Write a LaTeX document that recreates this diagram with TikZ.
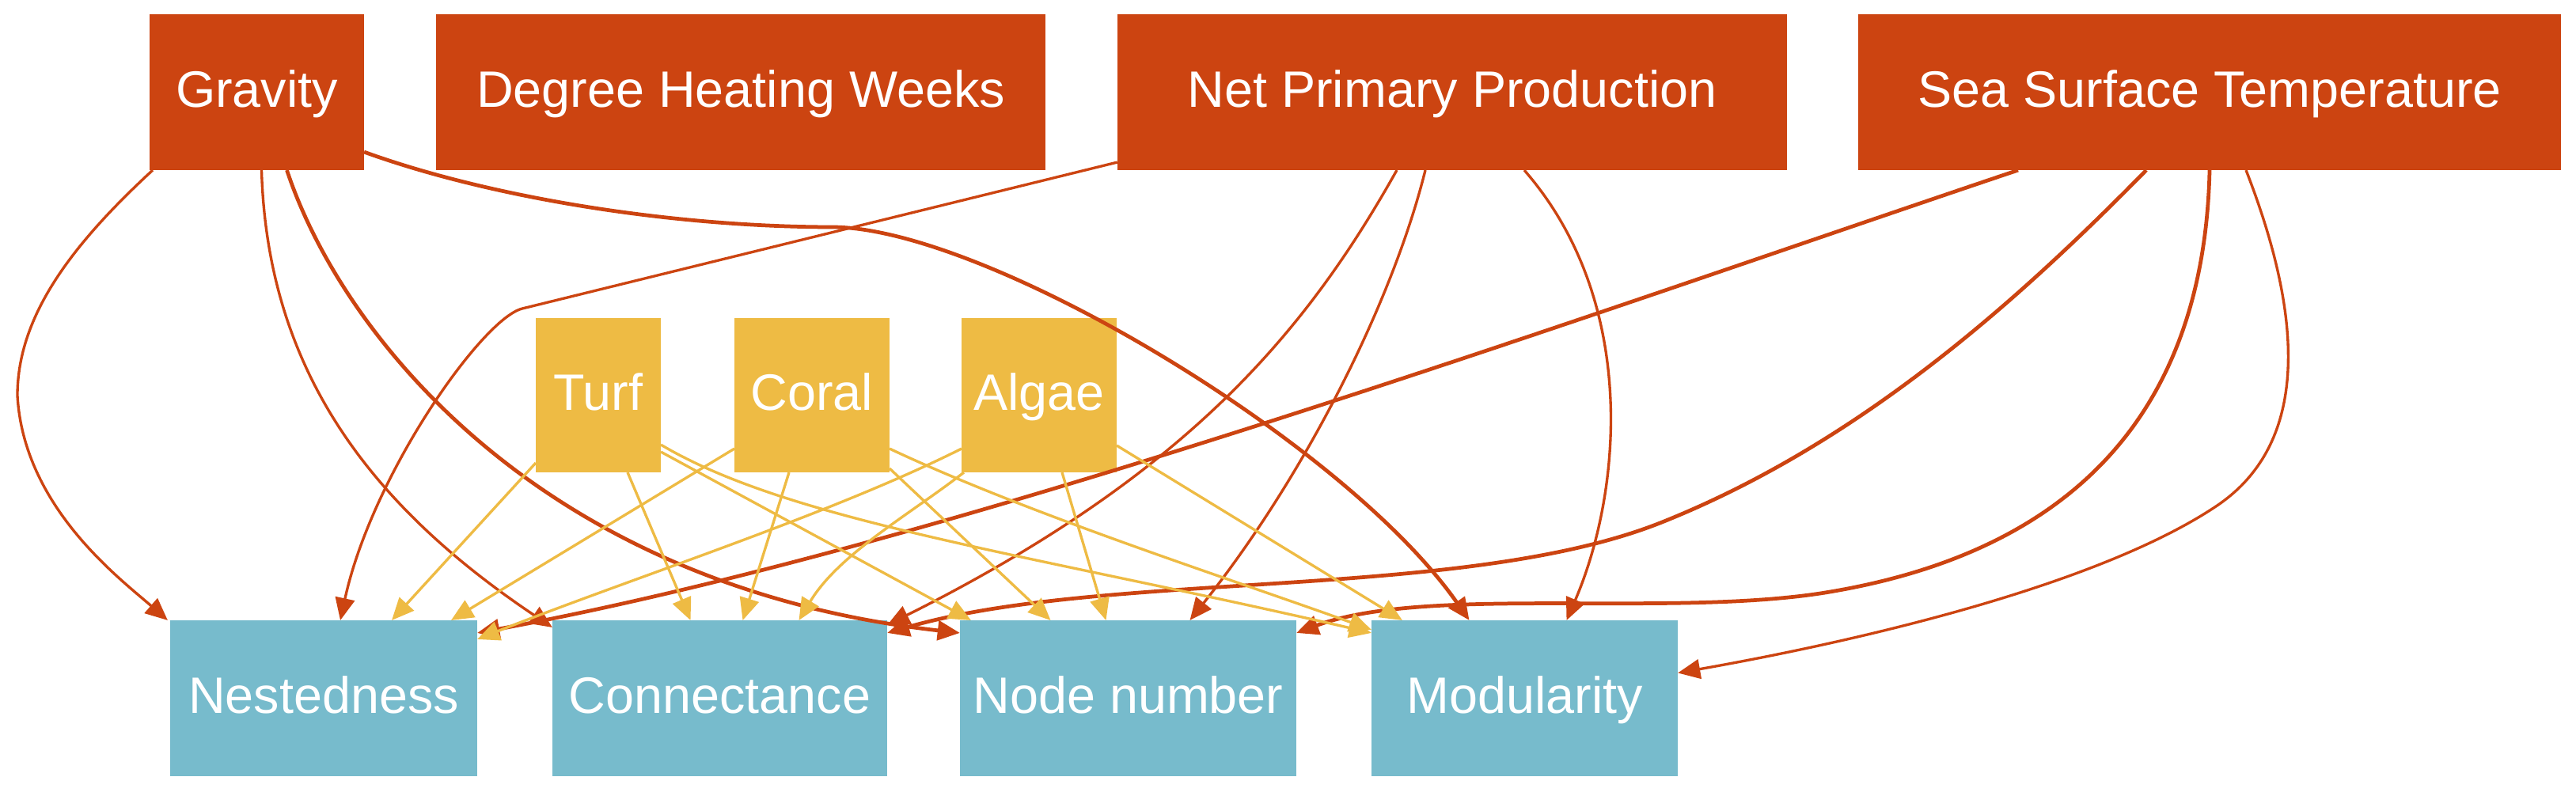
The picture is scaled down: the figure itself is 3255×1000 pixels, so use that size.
\documentclass[tikz,border=0pt]{standalone}
\usepackage{fontspec}
\setmainfont{Liberation Sans}
\usetikzlibrary{arrows.meta,calc}
\definecolor{driver-red}{HTML}{CC4411}
\definecolor{group-yellow}{HTML}{EEBB44}
\definecolor{metric-blue}{HTML}{77BBCC}
\tikzset{
  box/.style={rectangle, inner sep=0pt, outer sep=0pt, text=white,
    font=\fontsize{18.4}{22}\selectfont, text height=14.7pt, text depth=3.7pt},
  driver/.style={box, fill=driver-red, minimum height=1.97cm},
  group/.style={box, fill=group-yellow, minimum height=1.95cm},
  metric/.style={box, fill=metric-blue, minimum height=1.97cm},
  redlink/.style={-{Triangle[length=8pt,width=7pt]}, draw=driver-red, line width=0.95pt},
  yellowlink/.style={-{Triangle[length=8pt,width=7pt]}, draw=group-yellow, line width=0.95pt},
  heavy/.style={line width=1.35pt}
}

\begin{document}
\begin{tikzpicture}[x=0.01cm, y=-0.01cm]
\useasboundingbox (0,0) rectangle (3255,1000);
\node[driver, minimum width=2.71cm] (grav) at (324.5,116.5) {Gravity};
\node[driver, minimum width=7.70cm] (dhw) at (936,116.5) {Degree Heating Weeks};
\node[driver, minimum width=8.46cm] (npp) at (1835,116.5) {Net Primary Production};
\node[driver, minimum width=8.88cm] (sst) at (2792,116.5) {Sea Surface Temperature};
\node[group, minimum width=1.58cm] (turf) at (756,499.5) {Turf};
\node[group, minimum width=1.96cm] (coral) at (1026,499.5) {Coral};
\node[group, minimum width=1.96cm] (algae) at (1313,499.5) {Algae};
\node[metric, minimum width=3.88cm] (nest) at (409,882.5) {Nestedness};
\node[metric, minimum width=4.23cm] (conn) at (909.5,882.5) {Connectance};
\node[metric, minimum width=4.25cm] (nodenum) at (1425.5,882.5) {Node number};
\node[metric, minimum width=3.87cm] (modu) at (1926.5,882.5) {Modularity};
\draw[redlink] ($(grav.south west)+(4,0)$) .. controls (90,310) and (22,400) .. (22,500) .. controls (30,640) and (150,730) .. ($(nest.north west)+(-3,0)$);
\draw[redlink] ($(grav.south)+(6,0)$) .. controls (338,470) and (470,640) .. ($(conn.north west)+(0,9)$);
\draw[redlink, heavy] ($(grav.south)+(38,0)$) .. controls (430,420) and (680,740) .. ($(nodenum.north west)+(0,16)$);
\draw[redlink, heavy] ($(grav.south east)+(0,-23)$) .. controls (620,250) and (850,287) .. (1054,287) .. controls (1250,290) and (1700,560) .. ($(modu.north)+(-70,0)$);
\draw[redlink] ($(npp.south west)+(0,-10)$) -- (660,390) .. controls (610,402) and (470,600) .. ($(nest.north)+(21,0)$);
\draw[redlink] ($(npp.south)+(-70,0)$) .. controls (1650,420) and (1500,600) .. ($(conn.north east)+(0,6)$);
\draw[redlink] ($(npp.south)+(-34,0)$) .. controls (1760,380) and (1650,600) .. ($(nodenum.north)+(78,0)$);
\draw[redlink] ($(npp.south)+(91,0)$) .. controls (2070,380) and (2050,620) .. ($(modu.north)+(53,0)$);
\draw[redlink, heavy] ($(sst.south)+(-242,0)$) .. controls (2000,400) and (1200,690) .. ($(nest.north east)+(0,16)$);
\draw[redlink, heavy] ($(sst.south)+(-80,0)$) .. controls (2550,380) and (2350,560) .. (2100,660) .. controls (1850,760) and (1400,720) .. ($(conn.north east)+(0,16)$);
\draw[redlink, heavy] (sst.south) .. controls (2785,520) and (2620,700) .. (2300,750) .. controls (2100,780) and (1800,740) .. ($(nodenum.north east)+(0,16)$);
\draw[redlink] ($(sst.south)+(46,0)$) .. controls (2910,400) and (2920,560) .. (2800,640) .. controls (2650,740) and (2350,810) .. ($(modu.east)+(0,-32)$);
\draw[yellowlink] ($(turf.south west)+(0,-12)$) -- ($(nest.north)+(86,0)$);
\draw[yellowlink] ($(turf.south)+(37,0)$) -- ($(conn.north)+(-37,0)$);
\draw[yellowlink] ($(turf.south east)+(0,-26)$) -- ($(nodenum.north west)+(14,0)$);
\draw[yellowlink] ($(turf.south east)+(0,-35)$) .. controls (1000,660) and (1300,700) .. ($(modu.north west)+(0,16)$);
\draw[yellowlink] ($(coral.south west)+(0,-30)$) -- ($(nest.north)+(161,0)$);
\draw[yellowlink] ($(coral.south)+(-29,0)$) -- ($(conn.north)+(29,0)$);
\draw[yellowlink] ($(coral.south east)+(0,-5)$) -- ($(nodenum.north)+(-98,0)$);
\draw[yellowlink] ($(coral.south east)+(0,-30)$) .. controls (1300,650) and (1550,730) .. ($(modu.north west)+(0,12)$);
\draw[yellowlink] ($(algae.south west)+(0,-30)$) .. controls (1050,650) and (800,730) .. ($(nest.north east)+(0,24)$);
\draw[yellowlink] ($(algae.south west)+(3,0)$) .. controls (1150,650) and (1060,700) .. ($(conn.north)+(100,0)$);
\draw[yellowlink] ($(algae.south)+(29,0)$) -- ($(nodenum.north)+(-28,0)$);
\draw[yellowlink] ($(algae.south east)+(0,-34)$) -- ($(modu.north west)+(39,0)$);
\end{tikzpicture}
\end{document}
